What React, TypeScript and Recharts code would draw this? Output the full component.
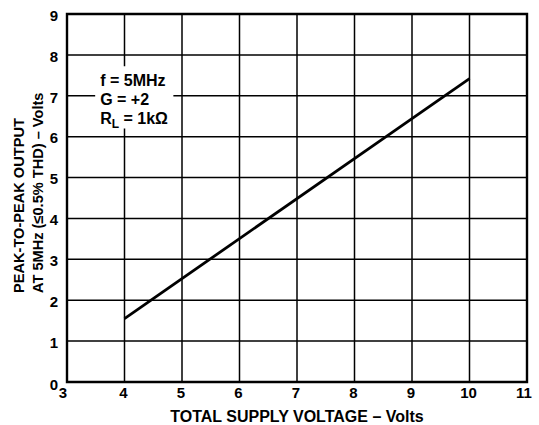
import React from 'react'
import {
  LineChart,
  Line,
  XAxis,
  YAxis,
  CartesianGrid,
  ReferenceArea,
  Label,
} from 'recharts'

/* ------------------------------------------------------------------ */
/*  Data                                                               */
/* ------------------------------------------------------------------ */

const SUPPLY_VOLTS = [4, 10]
const PP_OUTPUT = [1.55, 7.42]

const X_TICKS = [3, 4, 5, 6, 7, 8, 9, 10, 11]
const Y_TICKS = [0, 1, 2, 3, 4, 5, 6, 7, 8, 9]

const NOTE_LINES = ['f = 5MHz', 'G = +2']

const chartData = SUPPLY_VOLTS.map((v, i) => ({ v, out: PP_OUTPUT[i] }))

/* ------------------------------------------------------------------ */
/*  Styling                                                            */
/* ------------------------------------------------------------------ */

const FONT = '"Liberation Sans", Arial, Helvetica, sans-serif'
const TICK_SIZE = 15
const TITLE_SIZE = 16
const Y_TITLE_SIZE = 14.6

/* ------------------------------------------------------------------ */
/*  Ticks                                                              */
/* ------------------------------------------------------------------ */

function XTick(props: any) {
  const { x, y, payload } = props
  const v = payload.value
  const dx = v === 3 ? -4 : v === 11 ? -3 : -1
  return (
    <text
      x={x + dx}
      y={y}
      dy="0.71em"
      textAnchor="middle"
      fontFamily={FONT}
      fontWeight="bold"
      fontSize={TICK_SIZE}
      fill="#000"
    >
      {v}
    </text>
  )
}

function YTick(props: any) {
  const { x, y, payload } = props
  const v = payload.value
  const dy = v === 0 ? 3 : 1.5
  return (
    <text
      x={x}
      y={y + dy}
      dy="0.355em"
      textAnchor="end"
      fontFamily={FONT}
      fontWeight="bold"
      fontSize={TICK_SIZE}
      fill="#000"
    >
      {v}
    </text>
  )
}

/* ------------------------------------------------------------------ */
/*  Labels                                                             */
/* ------------------------------------------------------------------ */

// both lines start at the same height (rotated text, start anchor)
function YTitle(props: any) {
  const { viewBox } = props
  const sy = viewBox.y + viewBox.height - 89
  return (
    <g fontFamily={FONT} fontWeight="bold" fontSize={Y_TITLE_SIZE} fill="#000">
      <text x={19} y={sy} textAnchor="start" dominantBaseline="central" transform={`rotate(-90 19 ${sy})`}>
        PEAK-TO-PEAK OUTPUT
      </text>
      <text x={38} y={sy} textAnchor="start" dominantBaseline="central" transform={`rotate(-90 38 ${sy})`}>
        AT 5MHz (≤0.5% THD) – Volts
      </text>
    </g>
  )
}

function XTitle(props: any) {
  const { viewBox } = props
  return (
    <text
      x={viewBox.x + viewBox.width / 2}
      y={viewBox.y + 40}
      textAnchor="middle"
      fontFamily={FONT}
      fontWeight="bold"
      fontSize={TITLE_SIZE}
      fill="#000"
    >
      TOTAL SUPPLY VOLTAGE – Volts
    </text>
  )
}

function NoteText(props: any) {
  const { viewBox } = props
  const x = viewBox.x + 5
  const y = viewBox.y + 20
  return (
    <g fontFamily={FONT} fontWeight="bold" fontSize={TITLE_SIZE} fill="#000">
      {NOTE_LINES.map((t, i) => (
        <text key={t} x={x} y={y + i * 19}>
          {t}
        </text>
      ))}
      <text x={x} y={y + 2 * 19}>
        R<tspan fontSize={12} dy={4}>L</tspan>
        <tspan dy={-4}> = 1kΩ</tspan>
      </text>
    </g>
  )
}

/* ------------------------------------------------------------------ */
/*  Component                                                          */
/* ------------------------------------------------------------------ */

export default function App() {
  return (
    <div style={{ position: 'absolute', left: 0, top: 0, background: '#fff' }}>
      <LineChart
        width={539}
        height={425}
        data={chartData}
        margin={{ top: 14, right: 12, bottom: 0, left: 0 }}
      >
        <CartesianGrid stroke="#000" strokeWidth={1.5} strokeOpacity={1} />

        <XAxis
          dataKey="v"
          type="number"
          domain={[3, 11]}
          ticks={X_TICKS}
          interval={0}
          height={43}
          tickLine={false}
          tickSize={0}
          tickMargin={5}
          axisLine={false}
          tick={<XTick />}
        >
          <Label content={<XTitle />} />
        </XAxis>

        <YAxis
          type="number"
          domain={[0, 9]}
          ticks={Y_TICKS}
          interval={0}
          width={67}
          tickLine={false}
          tickSize={0}
          tickMargin={9}
          axisLine={false}
          tick={<YTick />}
        >
          <Label content={<YTitle />} />
        </YAxis>

        <ReferenceArea
          x1={3.49}
          x2={4.85}
          y1={6.2}
          y2={7.72}
          fill="#fff"
          fillOpacity={1}
          stroke="none"
          ifOverflow="visible"
        >
          <Label content={<NoteText />} />
        </ReferenceArea>

        <ReferenceArea
          x1={3}
          x2={11}
          y1={0}
          y2={9}
          fill="none"
          stroke="#000"
          strokeWidth={2.4}
        />

        <Line
          dataKey="out"
          type="linear"
          stroke="#000"
          strokeWidth={2.8}
          dot={false}
          isAnimationActive={false}
        />
      </LineChart>
    </div>
  )
}
